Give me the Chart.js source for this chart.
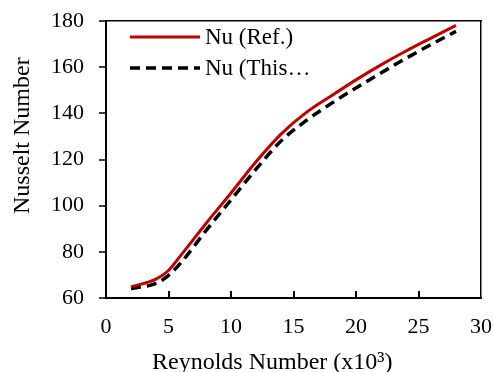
<!DOCTYPE html>
<html>
<head>
<meta charset="utf-8">
<script src="https://cdn.jsdelivr.net/npm/chart.js@4.4.1/dist/chart.umd.min.js"></script>
<style>
  html, body { margin: 0; padding: 0; background: #fff; }
  .wrap { width: 494px; height: 372px; }
</style>
</head>
<body>
<div class="wrap"><canvas id="nuChart" width="494" height="372"></canvas></div>
<script>
const reynolds = [2, 4, 5, 6, 8, 10, 12, 14, 16, 18, 20, 22, 24, 26, 28];
const nuRef = [64.8, 68.2, 71.9, 78.6, 92.3, 105.5, 119.0, 131.0, 140.3, 147.5, 154.5, 161.0, 167.0, 172.6, 178.1];
const nuThis = [64.1, 66.3, 69.8, 75.3, 89.2, 102.5, 115.8, 128.0, 136.8, 144.2, 151.0, 157.5, 163.8, 169.8, 175.5];
const seriesLabels = ['Nu (Ref.)', 'Nu (This…'];
const xTickValues = [0, 5, 10, 15, 20, 25, 30];
const yTickValues = [60, 80, 100, 120, 140, 160, 180];
const xTitle = 'Reynolds Number (x10³)';
const yTitle = 'Nusselt Number';

const FONT = "'Liberation Serif', 'Times New Roman', serif";

const toPoints = values => reynolds.map((x, i) => ({ x, y: values[i] }));

// no extra room for half labels: the layout padding sets the plot box
const noLabelPadding = s => {
    s.paddingLeft = 0;
    s.paddingRight = 0;
    s.paddingTop = 0;
    s.paddingBottom = 0;
};

// frame, tick marks, legend and axis titles (Excel style)
const excelLook = {
    id: 'excelLook',
    afterDatasetsDraw(chart) {
        const { ctx, chartArea: a, scales } = chart;
        const L = Math.round(a.left), R = Math.round(a.right);
        const T = Math.round(a.top), B = Math.round(a.bottom);
        ctx.save();
        ctx.setLineDash([]);
        ctx.fillStyle = '#000';

        // frame
        ctx.fillRect(L - 1, T - 1, 2, B - T + 2);
        ctx.fillRect(L - 1, B - 1, R - L + 2, 2);
        ctx.fillRect(L - 1, T - 1, R - L + 2, 1.5);
        ctx.fillRect(R - 1, T - 1, 1.5, B - T + 2);

        // x ticks point into the plot, y ticks point out
        xTickValues.slice(1, -1).forEach(v => {
            const px = Math.round(scales.x.getPixelForValue(v));
            ctx.fillRect(px - 1, B - 7, 2, 7);
        });
        yTickValues.forEach(v => {
            const py = Math.round(scales.y.getPixelForValue(v));
            ctx.fillRect(L - 7, py - 0.75, 7, 1.5);
        });

        // legend
        const rows = [37, 68];
        ctx.font = '23px ' + FONT;
        ctx.textBaseline = 'middle';
        ctx.textAlign = 'left';
        chart.data.datasets.forEach((ds, i) => {
            ctx.strokeStyle = ds.borderColor;
            ctx.lineWidth = ds.borderWidth;
            ctx.setLineDash(ds.borderDash || []);
            ctx.beginPath();
            ctx.moveTo(130, rows[i]);
            ctx.lineTo(200, rows[i]);
            ctx.stroke();
            ctx.setLineDash([]);
            ctx.fillText(ds.label, 205, rows[i] + 1);
        });

        // axis titles
        ctx.font = '24px ' + FONT;
        ctx.textBaseline = 'alphabetic';
        ctx.fillText(xTitle, 152, 369);
        ctx.translate(29, 214);
        ctx.rotate(-Math.PI / 2);
        ctx.fillText(yTitle, 0, 0);

        ctx.restore();
    }
};

new Chart(document.getElementById('nuChart'), {
    type: 'line',
    data: {
        datasets: [{
            label: seriesLabels[0],
            data: toPoints(nuRef),
            borderColor: '#c00000',
            borderWidth: 3,
            pointRadius: 0,
            cubicInterpolationMode: 'monotone'
        }, {
            label: seriesLabels[1],
            data: toPoints(nuThis),
            borderColor: '#000',
            borderWidth: 3.5,
            borderDash: [10, 6],
            pointRadius: 0,
            cubicInterpolationMode: 'monotone'
        }]
    },
    options: {
        responsive: false,
        animation: false,
        devicePixelRatio: 1,
        layout: { padding: { top: 21, right: 13, left: 0, bottom: 0 } },
        plugins: {
            legend: { display: false },
            tooltip: { enabled: false }
        },
        scales: {
            x: {
                type: 'linear',
                min: 0,
                max: 30,
                afterFit: s => { s.height = 74; noLabelPadding(s); },
                afterBuildTicks: s => { s.ticks = xTickValues.map(value => ({ value })); },
                border: { display: false },
                grid: { display: false, drawTicks: false },
                ticks: { color: '#000', font: { family: FONT, size: 22 }, padding: 16, maxRotation: 0 }
            },
            y: {
                type: 'linear',
                min: 60,
                max: 180,
                afterFit: s => { s.width = 106; noLabelPadding(s); },
                afterBuildTicks: s => { s.ticks = yTickValues.map(value => ({ value })); },
                border: { display: false },
                grid: { display: false, drawTicks: false },
                ticks: { color: '#000', font: { family: FONT, size: 22 }, padding: 22 }
            }
        }
    },
    plugins: [excelLook]
});
</script>
</body>
</html>
